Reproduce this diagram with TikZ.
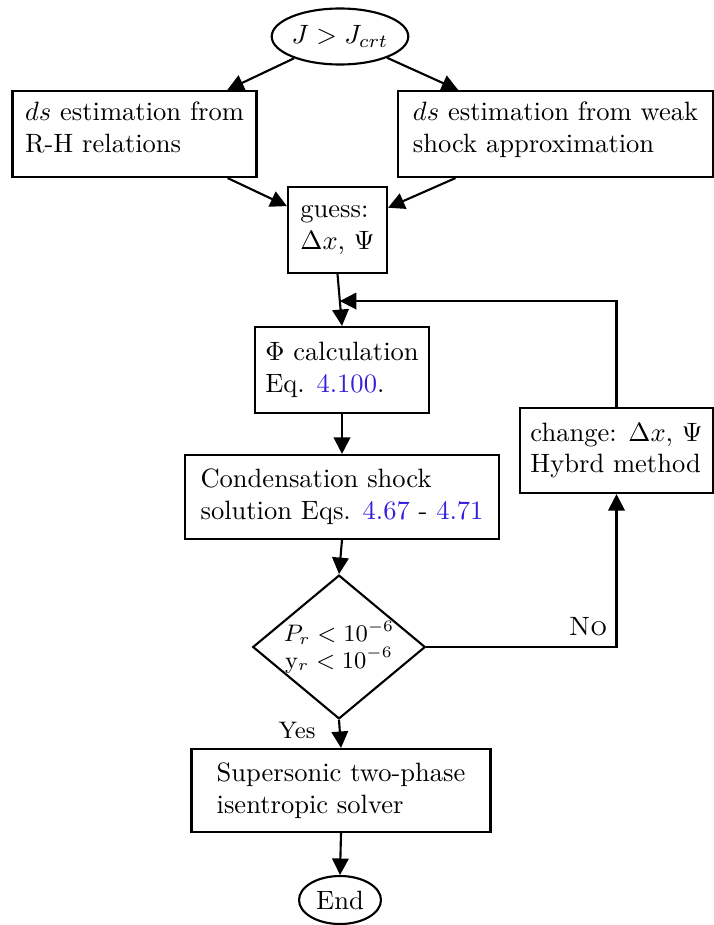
\documentclass[tikz,border=0pt]{standalone}
\usetikzlibrary{shapes.geometric,arrows.meta,calc}
\definecolor{refblue}{RGB}{50,30,220}
% extra depth under the last line of the two estimation boxes
\newcommand\lowstrut{\rule[-5.4pt]{0pt}{0pt}}
\begin{document}
\begin{tikzpicture}[x=0.377pt,y=-0.377pt,
  size/.style 2 args={minimum width=#1*0.377pt,minimum height=#2*0.377pt},
  box/.style={draw,line width=0.8pt,rectangle,align=left,inner sep=0pt},
  term/.style={draw,line width=0.8pt,ellipse,inner sep=0pt},
  decision/.style={draw,line width=0.8pt,diamond,aspect=1.2,inner sep=0pt,align=center,font=\small},
  flow/.style={line width=0.8pt,-{Triangle[length=6.2pt,width=6.2pt]}},
  lbl/.style={inner sep=0pt},
]
\useasboundingbox (0,0) rectangle (714,925);

% nodes
\node[term,size={134}{56}] (start) at (340,36.5) {$J > J_{crt}$};
\node[box,size={244}{86}] (rh) at (134.5,134)
  {$ds$ estimation from\\R-H relations\lowstrut};
\node[box,size={315}{86}] (weak) at (555.5,134)
  {$ds$ estimation from weak\\shock approximation\lowstrut};
\node[box,size={99}{86}] (guess) at (337.5,230)
  {guess:\\$\Delta x$, $\Psi$};
\node[box,size={174}{86}] (phi) at (342,370)
  {$\Phi$ calculation\\Eq. \textcolor{refblue}{4.100}.};
\node[box,size={314}{84}] (cond) at (342,497)
  {Condensation shock\\solution Eqs. \textcolor{refblue}{4.67} - \textcolor{refblue}{4.71}};
\node[box,size={193}{85}] (change) at (616.5,450.5)
  {change: $\Delta x$, $\Psi$\\Hybrd method};
\node[decision,size={170}{141}] (dec) at (339,647)
  {$P_r < 10^{-6}$\\[-1pt]y$_r < 10^{-6}$};
\node[box,size={299}{83}] (super) at (341,790.5)
  {Supersonic two-phase\\isentropic solver};
\node[term,size={82}{48}] (end) at (340,900) {End};

% feedback joins the guess -> phi link here
\coordinate (fb) at ($(guess.south)!0.52!(phi.north)$);
\coordinate (nocorner) at (change.south |- dec.east);

% connectors
\draw[flow] (start) -- (rh);
\draw[flow] (start) -- (weak);
\draw[flow] (rh) -- (guess);
\draw[flow] (weak) -- (guess);
\draw[flow] (guess.south) -- (phi.north);
\draw[flow] (change.north) |- (fb);
\draw[flow] (phi.south) -- (cond.north);
\draw[flow] (cond.south) -- (dec.north);
\draw[flow] (dec.south) -- (super.north);
\draw[flow] (dec.east) -- (nocorner) -- (change.south);
\draw[flow] (super.south) -- (end.north);

% branch labels
\node[lbl,font=\small] (yes) at (297,730) {Yes};
\node[lbl] (no) at (588,627) {\textsc{No}};
\end{tikzpicture}
\end{document}
